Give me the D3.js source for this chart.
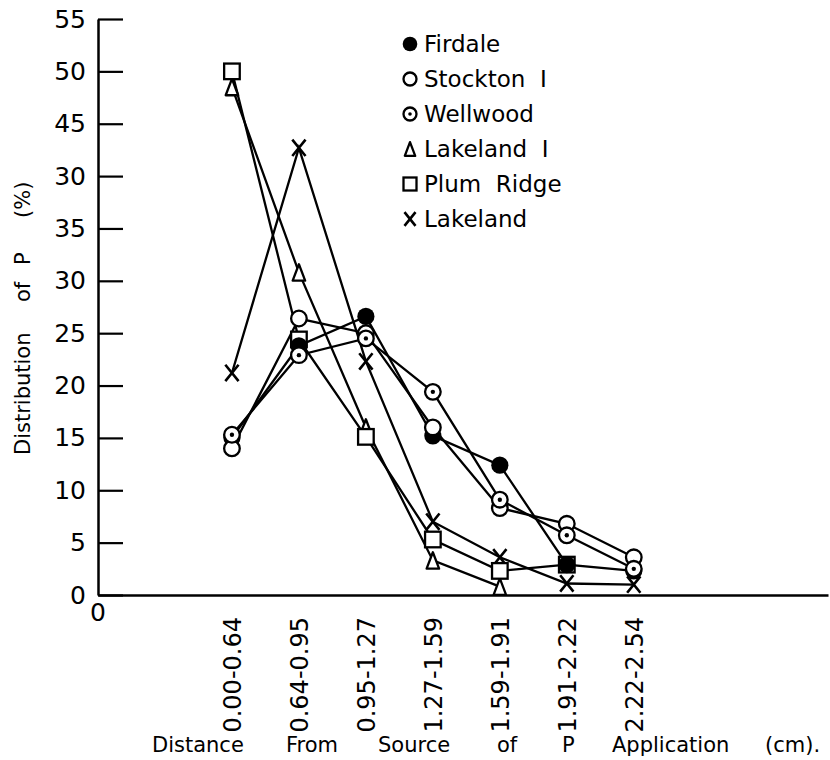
<!DOCTYPE html>
<html>
<head>
<meta charset="utf-8">
<script src="https://cdn.jsdelivr.net/npm/d3@7"></script>
<style>
  html, body { margin: 0; padding: 0; background: #fff; }
  svg { display: block; }
  text { font-family: "DejaVu Sans", "Liberation Sans", sans-serif; fill: #000; }
</style>
</head>
<body>
<svg id="chart" width="830" height="760"></svg>
<script>
// Distance classes from the point of P application (cm)
const categories = ["0.00-0.64", "0.64-0.95", "0.95-1.27", "1.27-1.59", "1.59-1.91", "1.91-2.22", "2.22-2.54"];

// Distribution of P (%) in each distance class, per soil
const firdale   = [15.0, 23.8, 26.6, 15.2, 12.4, 2.9, 2.3];
const stockton  = [14.0, 26.4, 25.0, 16.0, 8.3, 6.8, 3.6];
const wellwood  = [15.3, 22.9, 24.5, 19.4, 9.1, 5.7, 2.5];
const lakelandI = [48.5, 30.8, 16.0, 3.3, 0.8];
const plumRidge = [50.0, 24.4, 15.1, 5.3, 2.3, 2.9];
const lakeland  = [21.2, 42.7, 22.3, 7.0, 3.6, 1.1, 1.0];

const seriesNames = ["Firdale", "Stockton  I", "Wellwood", "Lakeland  I", "Plum  Ridge", "Lakeland"];
const seriesSymbols = ["filled", "open", "dotted", "triangle", "square", "cross"];
const seriesValues = [firdale, stockton, wellwood, lakelandI, plumRidge, lakeland];

// y axis ticks and their printed labels
const yTickValues = [0, 5, 10, 15, 20, 25, 30, 35, 40, 45, 50, 55];
const yTickLabels = ["0", "5", "10", "15", "20", "25", "30", "35", "30", "45", "50", "55"];

const svg = d3.select("#chart");

// category i sits at position i + 2 on the distance axis; 0 is the origin
const x = d3.scaleLinear().domain([0, 10.9]).range([98, 828]);
const y = d3.scaleLinear().domain([0, 55]).range([595, 19]);
const catPos = (i) => x(i + 2);

// Y axis: ticks pointing into the plot, labels on the left
const yAxis = d3.axisLeft(y)
  .tickValues(yTickValues)
  .tickFormat((d, i) => yTickLabels[i])
  .tickSizeInner(-25)
  .tickSizeOuter(0)
  .tickPadding(12);

const gy = svg.append("g").attr("transform", `translate(${x(0)},0)`).call(yAxis);
gy.select(".domain").attr("stroke", "#000").attr("stroke-width", 2.5);
gy.selectAll(".tick line").attr("stroke", "#000").attr("stroke-width", 2.2);
gy.selectAll(".tick text")
  .attr("font-size", 25)
  .attr("font-family", "DejaVu Sans, sans-serif")
  .attr("fill", "#000");

// X axis: baseline with rotated class labels
const xAxis = d3.axisBottom(x)
  .tickValues(categories.map((c, i) => i + 2))
  .tickFormat((d) => categories[d - 2])
  .tickSize(0)
  .tickSizeOuter(0);

const gx = svg.append("g").attr("transform", `translate(0,${y(0)})`).call(xAxis);
gx.select(".domain").attr("stroke", "#000").attr("stroke-width", 2.5);
gx.selectAll(".tick text")
  .attr("font-size", 24)
  .attr("font-family", "DejaVu Sans, sans-serif")
  .attr("fill", "#000")
  .attr("text-anchor", "end")
  .attr("transform", "translate(0,22) rotate(-90)")
  .attr("x", 0)
  .attr("y", 0)
  .attr("dy", "0.36em");

// origin label
svg.append("text")
  .attr("x", x(0))
  .attr("y", y(0) + 26)
  .attr("text-anchor", "middle")
  .attr("font-size", 25)
  .text("0");

// Axis titles
const yTitleWords = [["Distribution", 455], ["of", 302], ["P", 265], ["(%)", 218]];
yTitleWords.forEach(([w, py]) => {
  svg.append("text")
    .attr("transform", `translate(30,${py}) rotate(-90)`)
    .attr("font-size", 21)
    .text(w);
});

const xTitleWords = [["Distance", 152], ["From", 286], ["Source", 378], ["of", 497], ["P", 562], ["Application", 612], ["(cm).", 765]];
xTitleWords.forEach(([w, px]) => {
  svg.append("text")
    .attr("x", px)
    .attr("y", 752)
    .attr("font-size", 21)
    .text(w);
});

// Series lines
const line = d3.line().x((d, i) => catPos(i)).y((d) => y(d));
const plot = svg.append("g");
seriesValues.forEach((vals) => {
  plot.append("path")
    .attr("d", line(vals))
    .attr("fill", "none")
    .attr("stroke", "#000")
    .attr("stroke-width", 2.3);
});

// Marker drawing
function drawSymbol(g, kind, cx, cy, s) {
  const sw = 2.3;
  if (kind === "filled") {
    g.append("circle").attr("cx", cx).attr("cy", cy).attr("r", s + 0.8).attr("fill", "#000");
  } else if (kind === "open") {
    g.append("circle").attr("cx", cx).attr("cy", cy).attr("r", s).attr("fill", "#fff").attr("stroke", "#000").attr("stroke-width", sw);
  } else if (kind === "dotted") {
    g.append("circle").attr("cx", cx).attr("cy", cy).attr("r", s).attr("fill", "#fff").attr("stroke", "#000").attr("stroke-width", sw);
    g.append("circle").attr("cx", cx).attr("cy", cy).attr("r", s * 0.28).attr("fill", "#000");
  } else if (kind === "triangle") {
    const h = s * 2.1, w = s * 1.6;
    g.append("path")
      .attr("d", `M${cx},${cy - h / 2} L${cx + w / 2},${cy + h / 2} L${cx - w / 2},${cy + h / 2} Z`)
      .attr("fill", "#fff").attr("stroke", "#000").attr("stroke-width", sw).attr("stroke-linejoin", "round");
  } else if (kind === "square") {
    g.append("rect").attr("x", cx - s).attr("y", cy - s).attr("width", 2 * s).attr("height", 2 * s)
      .attr("fill", "#fff").attr("stroke", "#000").attr("stroke-width", sw);
  } else if (kind === "cross") {
    const a = s * 0.85, b = s * 1.05;
    g.append("path")
      .attr("d", `M${cx - a},${cy - b} L${cx + a},${cy + b} M${cx + a},${cy - b} L${cx - a},${cy + b}`)
      .attr("stroke", "#000").attr("stroke-width", sw + 0.3).attr("fill", "none");
  }
}

// Markers, drawn in reverse order so the circles sit on top
const drawOrder = [5, 3, 4, 0, 1, 2];
drawOrder.forEach((k) => {
  const g = plot.append("g");
  seriesValues[k].forEach((v, i) => drawSymbol(g, seriesSymbols[k], catPos(i), y(v), 7.8));
});

// Legend
const legend = svg.append("g");
seriesNames.forEach((name, k) => {
  const ly = 44 + k * 35;
  drawSymbol(legend, seriesSymbols[k], 410, ly, 6.5);
  legend.append("text")
    .attr("x", 424)
    .attr("y", ly)
    .attr("dy", "0.36em")
    .attr("font-size", 23)
    .attr("xml:space", "preserve")
    .style("white-space", "pre")
    .text(name);
});
</script>
</body>
</html>
